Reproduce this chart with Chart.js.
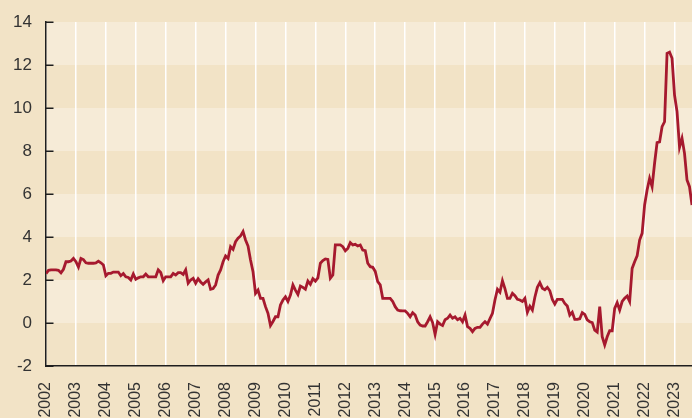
<!DOCTYPE html>
<html>
<head>
<meta charset="utf-8">
<script src="https://cdn.jsdelivr.net/npm/chart.js@4/dist/chart.umd.min.js"></script>
<style>
  html, body { margin: 0; padding: 0; background: #f2e3c6; }
  #wrap { width: 692px; height: 418px; }
</style>
</head>
<body>
<div id="wrap"><canvas id="c" width="692" height="418"></canvas></div>
<script>
// Monthly values (%), January to December of each year
const firstYear = 2002;
const y2002 = [2.3, 2.45, 2.47, 2.47, 2.47, 2.45, 2.33, 2.5, 2.85, 2.85, 2.88, 3.0];
const y2003 = [2.85, 2.6, 3.0, 2.95, 2.8, 2.78, 2.78, 2.78, 2.8, 2.88, 2.8, 2.7];
const y2004 = [2.2, 2.31, 2.31, 2.37, 2.37, 2.37, 2.2, 2.3, 2.15, 2.12, 2.0, 2.28];
const y2005 = [2.03, 2.1, 2.15, 2.15, 2.28, 2.15, 2.15, 2.15, 2.15, 2.47, 2.35, 1.97];
const y2006 = [2.15, 2.15, 2.15, 2.31, 2.23, 2.34, 2.34, 2.26, 2.47, 1.85, 2.0, 2.08];
const y2007 = [1.85, 2.06, 1.91, 1.8, 1.91, 2.0, 1.57, 1.6, 1.77, 2.23, 2.47, 2.85];
const y2008 = [3.12, 3.0, 3.55, 3.43, 3.78, 3.94, 4.05, 4.25, 3.86, 3.58, 2.93, 2.39];
const y2009 = [1.38, 1.53, 1.15, 1.15, 0.76, 0.45, -0.12, 0.07, 0.29, 0.29, 0.84, 1.07];
const y2010 = [1.22, 1.0, 1.3, 1.77, 1.53, 1.33, 1.72, 1.66, 1.57, 1.95, 1.8, 2.06];
const y2011 = [1.95, 2.1, 2.78, 2.9, 2.98, 2.96, 2.08, 2.23, 3.63, 3.63, 3.63, 3.55];
const y2012 = [3.36, 3.47, 3.74, 3.63, 3.66, 3.58, 3.63, 3.39, 3.36, 2.78, 2.62, 2.59];
const y2013 = [2.4, 1.92, 1.77, 1.15, 1.15, 1.15, 1.15, 1.0, 0.76, 0.6, 0.57, 0.56];
const y2014 = [0.56, 0.45, 0.29, 0.48, 0.37, 0.06, -0.1, -0.14, -0.14, 0.06, 0.29, 0.02];
const y2015 = [-0.53, 0.06, -0.05, -0.12, 0.15, 0.22, 0.37, 0.22, 0.29, 0.15, 0.22, 0.06];
const y2016 = [0.37, -0.17, -0.25, -0.4, -0.25, -0.2, -0.2, -0.05, 0.06, -0.05, 0.2, 0.45];
const y2017 = [1.07, 1.57, 1.43, 1.97, 1.6, 1.15, 1.15, 1.38, 1.27, 1.1, 1.07, 1.0];
const y2018 = [1.15, 0.5, 0.78, 0.6, 1.2, 1.66, 1.88, 1.62, 1.55, 1.66, 1.5, 1.1];
const y2019 = [0.88, 1.1, 1.1, 1.1, 0.91, 0.79, 0.37, 0.5, 0.17, 0.17, 0.2, 0.48];
const y2020 = [0.4, 0.15, 0.06, 0.02, -0.33, -0.42, 0.76, -0.64, -1.02, -0.64, -0.36, -0.36];
const y2021 = [0.68, 0.95, 0.6, 1.0, 1.15, 1.25, 1.0, 2.54, 2.85, 3.12, 3.86, 4.17];
const y2022 = [5.49, 6.19, 6.73, 6.34, 7.43, 8.39, 8.42, 9.13, 9.36, 12.54, 12.6, 12.31];
const y2023 = [10.6, 9.83, 8.17, 8.59, 7.89, 6.65, 6.34, 5.49];

const yearly = [y2002, y2003, y2004, y2005, y2006, y2007, y2008, y2009, y2010, y2011, y2012,
                y2013, y2014, y2015, y2016, y2017, y2018, y2019, y2020, y2021, y2022, y2023];

const yTicks = [-2, 0, 2, 4, 6, 8, 10, 12, 14];
const xTickYears = [];
for (let yr = 2002; yr <= 2023; yr++) xTickYears.push(yr);

const points = [];
yearly.forEach((arr, i) => {
  arr.forEach((v, m) => points.push({ x: firstYear + i + m / 12, y: v }));
});
const lastX = points[points.length - 1].x;

const OUTER = '#f2e3c6';
const LIGHT = '#f6ebd7';

const bgPlugin = {
  id: 'bands',
  beforeDraw(chart) {
    const ctx = chart.ctx;
    const a = chart.chartArea;
    const ys = chart.scales.y;
    ctx.save();
    ctx.fillStyle = OUTER;
    ctx.fillRect(0, 0, chart.width, chart.height);
    ctx.fillStyle = LIGHT;
    for (let i = 0; i < yTicks.length - 1; i++) {
      const lo = yTicks[i], hi = yTicks[i + 1];
      // lighter bands: 0-2, 4-6, 8-10, 12-14
      if (((lo % 4) + 4) % 4 === 0) {
        const top = ys.getPixelForValue(hi);
        const bot = ys.getPixelForValue(lo);
        ctx.fillRect(a.left, top, a.right - a.left, bot - top);
      }
    }
    ctx.restore();
  },
  afterDraw(chart) {
    const ctx = chart.ctx;
    const a = chart.chartArea;
    const ys = chart.scales.y;
    ctx.save();
    ctx.strokeStyle = '#1e1e1e';
    ctx.lineWidth = 1.5;
    yTicks.forEach(v => {
      const py = Math.round(ys.getPixelForValue(v)) + 0.25;
      ctx.beginPath();
      ctx.moveTo(a.left, py);
      ctx.lineTo(a.left + 7.5, py);
      ctx.stroke();
    });
    ctx.restore();
  }
};

new Chart(document.getElementById('c'), {
  type: 'line',
  data: {
    datasets: [{
      data: points,
      borderColor: '#a6192e',
      borderWidth: 2.8,
      pointRadius: 0,
      tension: 0,
      fill: false
    }]
  },
  options: {
    responsive: false,
    devicePixelRatio: 1,
    animation: false,
    events: [],
    layout: { padding: { top: 22, right: 0, left: 0, bottom: 0 } },
    plugins: { legend: { display: false }, tooltip: { enabled: false } },
    scales: {
      x: {
        type: 'linear',
        min: firstYear,
        max: lastX,
        afterBuildTicks(scale) {
          scale.ticks = xTickYears.map(v => ({ value: v }));
        },
        afterFit(scale) {
          scale.height = 52;
          scale.paddingLeft = 0;
          scale.paddingRight = 0;
        },
        grid: {
          display: true,
          color: '#ffffff',
          lineWidth: 1.5,
          drawTicks: false,
          drawOnChartArea: true
        },
        border: { display: true, color: '#1e1e1e', width: 1.5 },
        ticks: {
          autoSkip: false,
          maxRotation: 90,
          minRotation: 90,
          padding: 16,
          color: '#333333',
          font: { family: 'Liberation Sans, Arial, sans-serif', size: 16 },
          callback: v => String(v)
        }
      },
      y: {
        type: 'linear',
        min: -2,
        max: 14,
        afterBuildTicks(scale) {
          scale.ticks = yTicks.map(v => ({ value: v }));
        },
        afterFit(scale) {
          scale.width = 46;
          scale.paddingTop = 0;
          scale.paddingBottom = 0;
        },
        grid: { display: true, drawOnChartArea: false, drawTicks: false },
        border: { display: true, color: '#1e1e1e', width: 1.5 },
        ticks: {
          padding: 14,
          color: '#333333',
          font: { family: 'Liberation Sans, Arial, sans-serif', size: 17 },
          callback: v => String(v)
        }
      }
    }
  },
  plugins: [bgPlugin]
});
</script>
</body>
</html>
